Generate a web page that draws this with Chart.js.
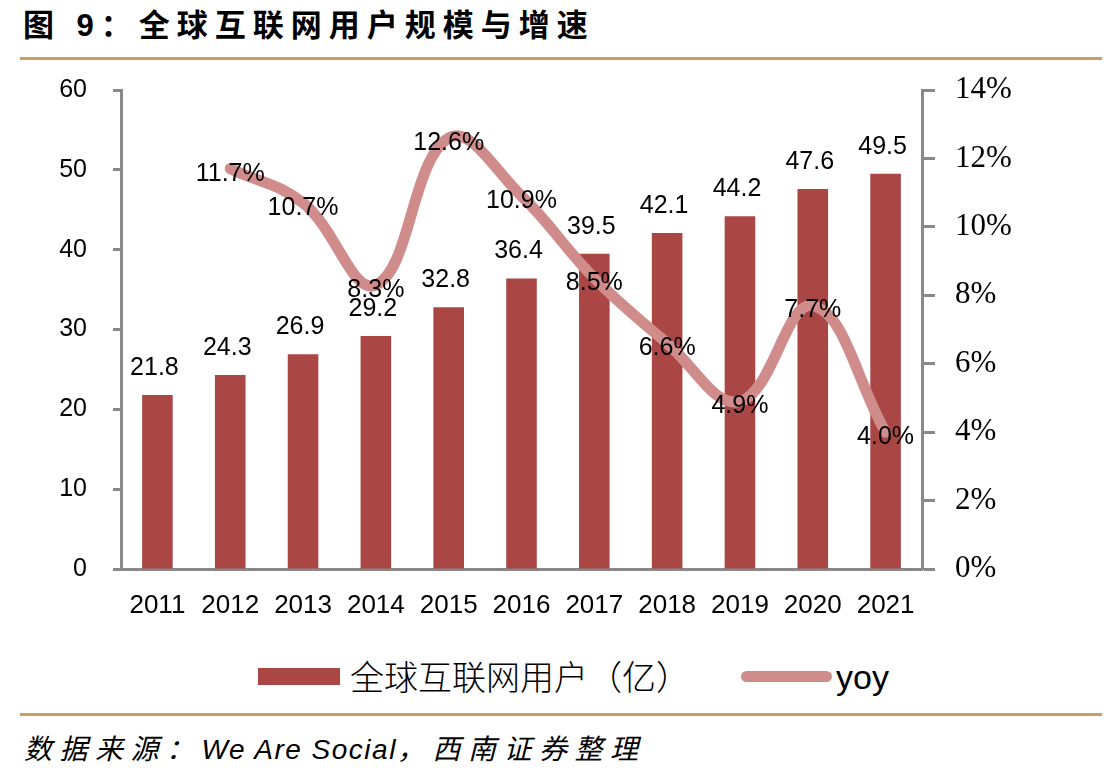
<!DOCTYPE html>
<html lang="zh">
<head>
<meta charset="UTF-8" />
<title>全球互联网用户规模与增速</title>
<script src="https://cdn.jsdelivr.net/npm/chart.js"></script>
<style>
  body {
    margin: 0;
    width: 1119px;
    height: 783px;
    background: #ffffff;
    position: relative;
    overflow: hidden;
    font-family: "Liberation Sans", "Noto Sans CJK SC", sans-serif;
    color: #000000;
  }
  .title {
    position: absolute;
    left: 23px;
    top: 6px;
    font-size: 31px;
    line-height: 40px;
    font-weight: bold;
    letter-spacing: 7px;
    white-space: nowrap;
  }
  .rule {
    position: absolute;
    left: 20px;
    width: 1082px;
    height: 3px;
    background: #c99f62;
  }
  .chart-box {
    position: absolute;
    left: 0;
    top: 60px;
    width: 1119px;
    height: 560px;
  }
  .swatch {
    position: absolute;
  }
  .lbl {
    position: absolute;
    white-space: nowrap;
    line-height: 1;
  }
  .source {
    position: absolute;
    left: 24px;
    top: 732px;
    font-size: 28px;
    line-height: 36px;
    font-style: italic;
    white-space: nowrap;
  }
  .source .cn { letter-spacing: 7.5px; }
  .source .en { letter-spacing: 1.5px; }
</style>
</head>
<body>
  <div class="title">图 9：全球互联网用户规模与增速</div>
  <div class="rule" style="top:57px"></div>

  <div class="chart-box">
    <canvas id="usersChart" width="1119" height="560"></canvas>
  </div>

  <!-- legend -->
  <div class="swatch" style="left:258px; top:668px; width:82px; height:17px; background:#aa4745;"></div>
  <div class="lbl" style="left:350px; top:659px; font-size:34px; font-family:'Noto Sans CJK SC'; font-weight:300;">全球互联网用户（亿）</div>
  <div class="swatch" style="left:741px; top:671px; width:91px; height:11px; border-radius:6px; background:#d08b8b;"></div>
  <div class="lbl" style="left:836px; top:660px; font-size:34px;">yoy</div>

  <div class="rule" style="top:713px"></div>
  <div class="source"><span class="cn">数据来源：</span><span class="en">We Are Social</span><span class="cn">，西南证券整理</span></div>

  <script>
    const years = ['2011', '2012', '2013', '2014', '2015', '2016', '2017', '2018', '2019', '2020', '2021'];
    const users = [21.8, 24.3, 26.9, 29.2, 32.8, 36.4, 39.5, 42.1, 44.2, 47.6, 49.5];
    const yoy = [null, 11.7, 10.7, 8.3, 12.6, 10.9, 8.5, 6.6, 4.9, 7.7, 4.0];

    const axisGray = '#898989';

    // value labels above bars and on the line
    const valueLabels = {
      id: 'valueLabels',
      afterDatasetsDraw(chart) {
        const ctx = chart.ctx;
        ctx.save();
        ctx.font = '25px "Liberation Sans"';
        ctx.fillStyle = '#000';
        ctx.textAlign = 'center';
        ctx.textBaseline = 'middle';
        chart.getDatasetMeta(0).data.forEach((bar, i) => {
          ctx.fillText(users[i].toFixed(1), bar.x - 3, bar.y - 27);
        });
        chart.getDatasetMeta(1).data.forEach((pt, i) => {
          if (yoy[i] === null) return;
          ctx.fillText(yoy[i].toFixed(1) + '%', pt.x, pt.y + 5);
        });
        ctx.restore();
      }
    };

    // fixed axis sizes so the plot box sits where the original is
    function fixSide(width) {
      return (s) => {
        s.width = width;
        s.paddingTop = 0;
        s.paddingBottom = 0;
      };
    }

    const ctx = document.getElementById('usersChart').getContext('2d');
    new Chart(ctx, {
      data: {
        labels: years,
        datasets: [
          {
            type: 'bar',
            label: '全球互联网用户（亿）',
            data: users,
            yAxisID: 'y',
            backgroundColor: '#aa4745',
            barPercentage: 0.42,
            categoryPercentage: 1,
            order: 2
          },
          {
            type: 'line',
            label: 'yoy',
            data: yoy,
            yAxisID: 'y1',
            borderColor: '#d08b8b',
            borderWidth: 11,
            borderCapStyle: 'round',
            pointRadius: 0,
            tension: 0.4,
            order: 1
          }
        ]
      },
      options: {
        responsive: false,
        animation: false,
        layout: { padding: { top: 30, left: 0, right: 0, bottom: 0 } },
        plugins: {
          legend: { display: false },
          tooltip: { enabled: false }
        },
        scales: {
          x: {
            grid: { display: false },
            border: { color: axisGray, width: 3 },
            ticks: {
              color: '#000',
              padding: 13,
              font: { family: 'Liberation Sans', size: 26 }
            },
            afterFit(s) { s.height = 51; }
          },
          y: {
            position: 'left',
            min: 0,
            max: 60,
            ticks: {
              stepSize: 10,
              padding: 26,
              color: '#000',
              font: { family: 'Liberation Sans', size: 25 }
            },
            grid: {
              drawOnChartArea: false,
              tickLength: 8,
              tickWidth: 3,
              tickColor: axisGray
            },
            border: { color: axisGray, width: 3 },
            afterFit: fixSide(121)
          },
          y1: {
            position: 'right',
            min: 0,
            max: 14,
            ticks: {
              stepSize: 2,
              padding: 20,
              color: '#000',
              font: { family: 'Liberation Serif', size: 31 },
              callback: (v) => v + '%'
            },
            grid: {
              drawOnChartArea: false,
              tickLength: 13,
              tickWidth: 3,
              tickColor: axisGray
            },
            border: { color: axisGray, width: 3 },
            afterFit: fixSide(197)
          }
        }
      },
      plugins: [valueLabels]
    });
  </script>
</body>
</html>
